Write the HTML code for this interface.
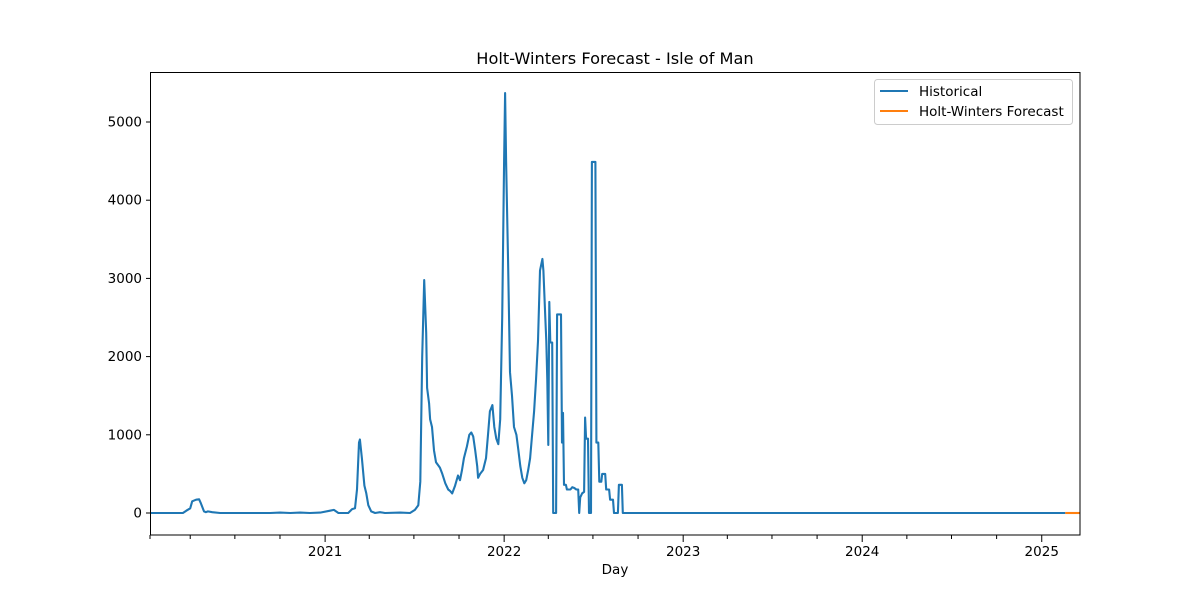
<!DOCTYPE html>
<html><head><meta charset="utf-8"><style>
body{margin:0;background:#fff;font-family:"DejaVu Sans","Liberation Sans",sans-serif;}
svg text{font-family:"DejaVu Sans","Liberation Sans",sans-serif;}
</style></head><body>
<svg id="chart" width="1200" height="600" xmlns="http://www.w3.org/2000/svg">
<rect width="1200" height="600" fill="#fff"/>
<text x="615" y="64" font-size="16.2" text-anchor="middle">Holt-Winters Forecast - Isle of Man</text>
<g id="plot"></g>
<rect x="150.5" y="72.5" width="929.5" height="462.5" fill="none" stroke="#000" stroke-width="1"/>
<text x="615" y="574" font-size="13.5" text-anchor="middle">Day</text>
<g>
<rect x="874.5" y="79.5" width="198" height="45" rx="3" fill="#fff" fill-opacity="0.8" stroke="#ccc"/>
<line x1="880" y1="91" x2="908" y2="91" stroke="#1f77b4" stroke-width="2"/>
<text x="919" y="96" font-size="13.5">Historical</text>
<line x1="880" y1="111" x2="908" y2="111" stroke="#ff7f0e" stroke-width="2"/>
<text x="919" y="116" font-size="13.5">Holt-Winters Forecast</text>
</g>
</svg>
<script>
// days since 2020-01-01
const histDays=[9,76,83,91,95,103,109,113,119,123,127,136,152,254,274,295,315,335,356,376,384,393,413,421,427,431,435,437,441,446,450,454,460,468,478,488,519,539,549,556,560,564,568,572,574,578,580,584,588,592,600,605,611,617,621,625,631,637,641,645,649,655,660,664,668,672,676,678,682,688,694,698,702,707,711,715,719,723,727,731,733,735,739,743,747,751,756,760,764,768,772,776,780,784,788,792,796,800,804,809,811,815,817,819,821,823,825,829,831,837,839,847,849,851,853,857,859,866,870,874,878,882,884,886,890,894,896,898,902,904,908,910,917,919,923,925,929,931,937,939,945,947,953,955,963,965,971,973,1875];
const histVals=[0,0,30,60,150,170,175,120,20,10,20,10,0,0,5,0,5,0,5,30,40,0,0,50,60,300,900,940,700,350,250,100,20,0,10,0,5,0,40,100,400,2000,2980,2300,1600,1400,1200,1100,800,650,580,500,380,300,280,250,350,480,420,550,700,850,1000,1030,980,800,600,450,500,550,700,1000,1300,1380,1100,950,880,1200,2500,4500,5370,4500,3200,1800,1500,1100,1000,800,600,450,380,420,550,700,1000,1300,1700,2200,3100,3250,3100,2500,2200,1700,870,2700,2180,2180,0,0,2540,2540,900,1280,360,360,300,300,330,320,300,300,0,200,250,270,1220,950,950,0,0,4490,4490,900,900,400,400,500,500,300,300,170,170,0,0,360,360,0,0];
const fcDays=[1875,1905];
const fcVals=[0,0];
const yTicks=[0,1000,2000,3000,4000,5000];
const yearTicks=[366,731,1096,1461,1827];
const yearLabels=["2021","2022","2023","2024","2025"];
const minorTicks=[91,182,274,456,547,639,821,912,1004,1186,1277,1369,1552,1643,1735];

const NS="http://www.w3.org/2000/svg";
const X0=150,X1=1080,D0=9,D1=1905;
const Y0=513,YS=(513-122)/5000;
const xs=d=>X0+(d-D0)*(X1-X0)/(D1-D0);
const ys=v=>Y0-v*YS;
const g=document.getElementById('plot');
function mk(t,a){const e=document.createElementNS(NS,t);for(const k in a)e.setAttribute(k,a[k]);g.appendChild(e);return e;}

yTicks.forEach(v=>{
  const l=mk('line',{x1:146,x2:150,y1:ys(v),y2:ys(v),stroke:'#000'});
  
  
  const t=mk('text',{x:142,y:ys(v)+4.5,'font-size':13.5,'text-anchor':'end'});
  t.textContent=v;
  
  
});
yearTicks.forEach((d,i)=>{
  const l=mk('line',{x1:xs(d),x2:xs(d),y1:535,y2:542,stroke:'#000'});
  
  
  const t=mk('text',{x:xs(d),y:556,'font-size':13.5,'text-anchor':'middle'});
  t.textContent=yearLabels[i];
  
  
});
[D0].concat(minorTicks).forEach(d=>{
  const l=mk('line',{x1:xs(d),x2:xs(d),y1:535,y2:539,stroke:'#000'});
  
  
});
const hp=histDays.map((d,i)=>xs(d).toFixed(1)+','+ys(histVals[i]).toFixed(1)).join(' ');
const h=mk('polyline',{points:hp,fill:'none',stroke:'#1f77b4','stroke-width':2.1,'stroke-linejoin':'round'});


const fp=fcDays.map((d,i)=>xs(d).toFixed(1)+','+ys(fcVals[i]).toFixed(1)).join(' ');
const f=mk('polyline',{points:fp,fill:'none',stroke:'#ff7f0e','stroke-width':2.1});


</script>
</body></html>
